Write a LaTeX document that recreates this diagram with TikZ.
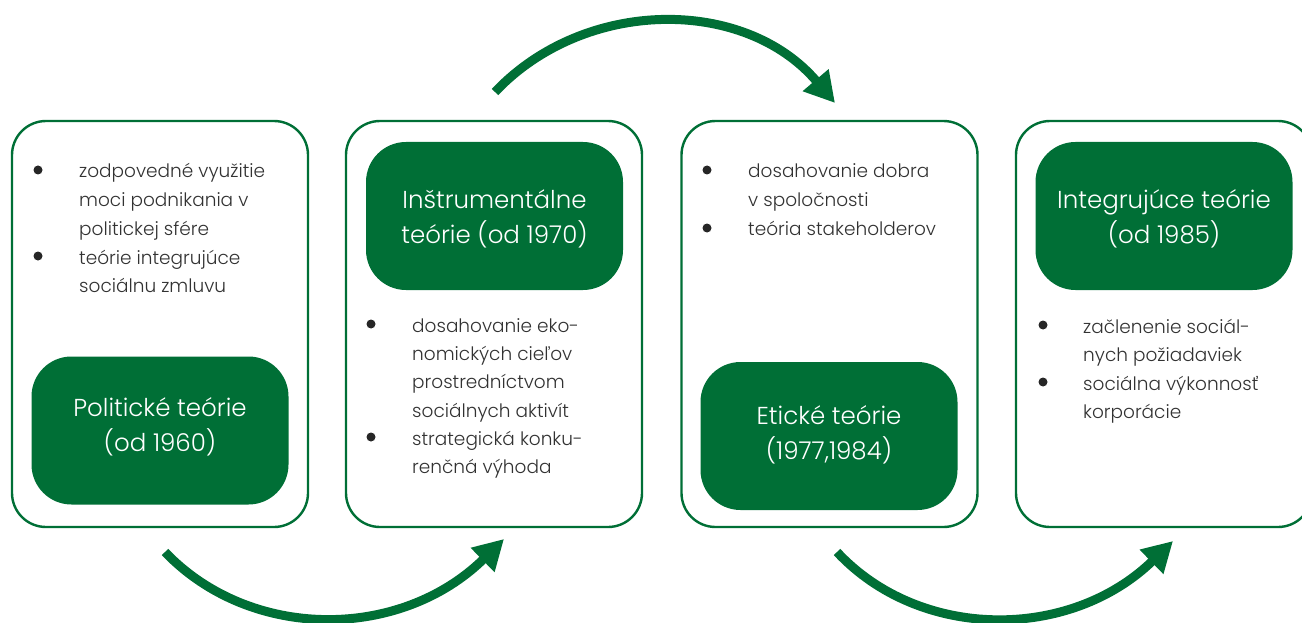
\documentclass[tikz,border=0pt]{standalone}
\usepackage{fontspec}
\setmainfont{Poppins}[UprightFont={* Light}]
\usetikzlibrary{arrows.meta}
\definecolor{cgreen}{RGB}{0,111,54}
\definecolor{ctext}{RGB}{50,50,50}
\begin{document}
\begin{tikzpicture}[x=1pt,y=-1pt,
  outerbox/.style={draw=cgreen, line width=2.4pt, rounded corners=34pt, minimum width=296pt, minimum height=406pt, inner sep=0pt},
  headbox/.style={fill=cgreen, rounded corners=40pt, minimum width=257pt, minimum height=148pt, inner sep=0pt},
  headtxt/.style={anchor=base, text=white, font=\fontsize{24.5}{28}\selectfont, inner sep=0pt},
  bodytxt/.style={anchor=base west, text=ctext, font=\fontsize{18.5}{22}\selectfont, inner sep=0pt},
  bulletdot/.style={circle, fill=black!85, minimum size=9pt, inner sep=0pt},
  bigarrow/.style={draw=cgreen, line width=9pt, -{Triangle[length=30pt,width=32pt]}}
]
\useasboundingbox (0,0) rectangle (1302,623);
% outer boxes
\node[outerbox] (box1) at (160,324) {};
\node[outerbox] (box2) at (494,324) {};
\node[outerbox] (box3) at (829.5,324) {};
\node[outerbox] (box4) at (1164,324) {};
% heading boxes
\node[headbox] (h1) at (160,430.5) {};
\node[headbox] (h2) at (494.5,216) {};
\node[headbox] (h3) at (829,436) {};
\node[headbox] (h4) at (1164,216) {};
% heading texts
\node[headtxt] (h1a) at (160,416) {Politické teórie};
\node[headtxt] (h1b) at (160,451) {(od 1960)};
\node[headtxt] (h2a) at (494.5,208) {Inštrumentálne};
\node[headtxt] (h2b) at (494.5,243) {teórie (od 1970)};
\node[headtxt] (h3a) at (829,424) {Etické teórie};
\node[headtxt] (h3b) at (829,459) {(1977,1984)};
\node[headtxt] (h4a) at (1164,208) {Integrujúce teórie};
\node[headtxt] (h4b) at (1164,243) {(od 1985)};
% box 1 body
\node[bulletdot] (b11) at (38,170) {};
\node[bulletdot] (b12) at (38,256) {};
\node[bodytxt] (t11) at (79,178) {zodpovedné využitie};
\node[bodytxt] (t12) at (79,207) {moci podnikania v};
\node[bodytxt] (t13) at (79,235) {politickej sfére};
\node[bodytxt] (t14) at (79,264) {teórie integrujúce};
\node[bodytxt] (t15) at (79,292) {sociálnu zmluvu};
% box 2 body
\node[bulletdot] (b21) at (371,324) {};
\node[bulletdot] (b22) at (371,437) {};
\node[bodytxt] (t21) at (412,332) {dosahovanie eko-};
\node[bodytxt] (t22) at (412,360) {nomických cieľov};
\node[bodytxt] (t23) at (412,388) {prostredníctvom};
\node[bodytxt] (t24) at (412,417) {sociálnych aktivít};
\node[bodytxt] (t25) at (412,445) {strategická konku-};
\node[bodytxt] (t26) at (412,473) {renčná výhoda};
% box 3 body
\node[bulletdot] (b31) at (707,170) {};
\node[bulletdot] (b32) at (707,228) {};
\node[bodytxt] (t31) at (748,178) {dosahovanie dobra};
\node[bodytxt] (t32) at (748,207) {v spoločnosti};
\node[bodytxt] (t33) at (748,236) {teória stakeholderov};
% box 4 body
\node[bulletdot] (b41) at (1043,325) {};
\node[bulletdot] (b42) at (1043,382) {};
\node[bodytxt] (t41) at (1083,333) {začlenenie sociál-};
\node[bodytxt] (t42) at (1083,361) {nych požiadaviek};
\node[bodytxt] (t43) at (1083,390) {sociálna výkonnosť};
\node[bodytxt] (t44) at (1083,418) {korporácie};
% arrows
\coordinate (a1s) at (165,552);
\coordinate (a1e) at (504,539);
\coordinate (a2s) at (495,92);
\coordinate (a2e) at (835,103);
\coordinate (a3s) at (837,552);
\coordinate (a3e) at (1173,541);
\draw[bigarrow] (a1s) .. controls (250,641) and (400,641) .. (a1e);
\draw[bigarrow] (a2s) .. controls (585,-3) and (745,-3) .. (a2e);
\draw[bigarrow] (a3s) .. controls (920,641) and (1070,641) .. (a3e);
\end{tikzpicture}
\end{document}
